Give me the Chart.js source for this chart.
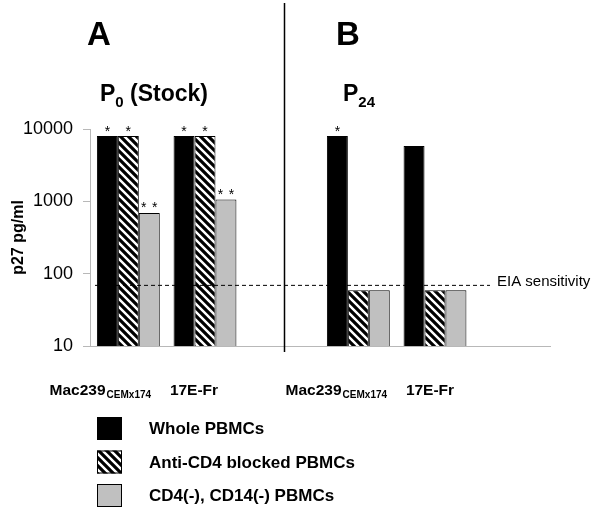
<!DOCTYPE html>
<html><head><meta charset="utf-8">
<script src="https://cdn.jsdelivr.net/npm/chart.js@4.4.1/dist/chart.umd.min.js"></script>
<style>html,body{margin:0;padding:0;background:#fff;}#wrap{width:600px;height:517px;}</style>
</head><body><div id="wrap"><canvas id="c" width="600" height="517"></canvas></div>
<script>
const categories = ['Mac239', '17E-Fr', '', 'Mac239', '17E-Fr', ''];
const categorySubscripts = ['CEMx174', '', '', 'CEMx174', '', ''];
const seriesLabels = ['Whole PBMCs', 'Anti-CD4 blocked PBMCs', 'CD4(-), CD14(-) PBMCs'];
const wholePBMCs = [8000, 8000, null, 8000, 5800, null];
const antiCD4Blocked = [8000, 8000, null, 59, 59, null];
const cd4cd14Neg = [690, 1060, null, 59, 59, null];
const starsWhole = [1, 1, 0, 1, 0, 0];
const starsAnti = [1, 1, 0, 0, 0, 0];
const starsNeg = [2, 2, 0, 0, 0, 0];
const yTicks = [10, 100, 1000, 10000];
const eiaSensitivity = 70;
const panelTitles = [{letter: 'A', main: 'P', sub: '0', rest: ' (Stock)'}, {letter: 'B', main: 'P', sub: '24', rest: ''}];

const FONT = "'Liberation Sans', Arial, sans-serif";

// hatch pattern
function makeHatch() {
  const t = document.createElement('canvas');
  t.width = 8; t.height = 8;
  const g = t.getContext('2d');
  g.fillStyle = '#fff'; g.fillRect(0, 0, 8, 8);
  g.strokeStyle = '#000'; g.lineWidth = 3.2; g.lineCap = 'square';
  g.beginPath();
  for (let k = -1; k <= 1; k++) { g.moveTo(k * 8 - 2, -2); g.lineTo(k * 8 + 10, 10); }
  g.stroke();
  return document.getElementById('c').getContext('2d').createPattern(t, 'repeat');
}
const hatch = makeHatch();
const fills = ['#000000', hatch, '#c0c0c0'];
const starSets = [starsWhole, starsAnti, starsNeg];

const extras = {
  id: 'extras',
  afterDatasetsDraw(chart) {
    const ctx = chart.ctx;
    const xs = chart.scales.x, ys = chart.scales.y;
    const area = chart.chartArea;
    ctx.save();
    // stars
    ctx.fillStyle = '#000';
    ctx.font = '14px ' + FONT;
    ctx.textAlign = 'center';
    ctx.textBaseline = 'alphabetic';
    chart.data.datasets.forEach((ds, di) => {
      const meta = chart.getDatasetMeta(di);
      starSets[di].forEach((n, i) => {
        const el = meta.data[i];
        if (!n || !el) return;
        const y = el.y - 0.5;
        if (n === 1) ctx.fillText('*', el.x, y);
        else { ctx.fillText('*', el.x - 5.5, y); ctx.fillText('*', el.x + 5.5, y); }
      });
    });
    // EIA dashed line
    const yE = ys.getPixelForValue(eiaSensitivity);
    ctx.strokeStyle = '#000'; ctx.lineWidth = 1;
    ctx.setLineDash([4, 3]);
    ctx.beginPath(); ctx.moveTo(area.left + 5, yE + 0.5); ctx.lineTo(area.left + 400, yE + 0.5); ctx.stroke();
    ctx.setLineDash([]);
    ctx.textAlign = 'left';
    ctx.font = '15px ' + FONT;
    ctx.fillText('EIA sensitivity', area.left + 407, yE + 1);
    // separator
    const xSep = Math.round(xs.getPixelForValue(2)) + 2.5;
    ctx.lineWidth = 1.5;
    ctx.beginPath(); ctx.moveTo(xSep, 3); ctx.lineTo(xSep, area.bottom + 6); ctx.stroke();
    // x labels
    const shift = [-28, -11, 0, -22, -5, 0];
    categories.forEach((lab, i) => {
      if (!lab) return;
      const cx = xs.getPixelForValue(i) + shift[i];
      ctx.font = 'bold 15.5px ' + FONT;
      const w1 = ctx.measureText(lab).width;
      ctx.font = 'bold 10px ' + FONT;
      const sub = categorySubscripts[i];
      const w2 = sub ? ctx.measureText(sub).width + 1 : 0;
      const x0 = cx - (w1 + w2) / 2;
      ctx.font = 'bold 15.5px ' + FONT;
      ctx.textAlign = 'left';
      ctx.fillText(lab, x0, 395);
      if (sub) { ctx.font = 'bold 10px ' + FONT; ctx.fillText(sub, x0 + w1 + 1, 398); }
    });
    // panel titles
    const letterX = [87, 336];
    const pX = [100, 343];
    panelTitles.forEach((p, k) => {
      ctx.textAlign = 'left';
      ctx.font = 'bold 33px ' + FONT;
      ctx.fillText(p.letter, letterX[k], 45);
      ctx.font = 'bold 23px ' + FONT;
      ctx.fillText(p.main, pX[k], 101);
      let x = pX[k] + ctx.measureText(p.main).width;
      ctx.font = 'bold 15px ' + FONT;
      ctx.fillText(p.sub, x, 107);
      x += ctx.measureText(p.sub).width;
      ctx.font = 'bold 23px ' + FONT;
      ctx.fillText(p.rest, x, 101);
    });
    // legend
    const rowsY = [434, 467.5, 501];
    chart.data.datasets.forEach((ds, di) => {
      const by = rowsY[di];
      ctx.fillStyle = ds.backgroundColor;
      ctx.fillRect(97, by - 17, 25, 23);
      ctx.strokeStyle = '#000'; ctx.lineWidth = 1;
      ctx.strokeRect(97.5, by - 16.5, 24, 22);
      ctx.fillStyle = '#000';
      ctx.font = 'bold 17px ' + FONT;
      ctx.textAlign = 'left';
      ctx.fillText(ds.label, 149, by);
    });
    ctx.restore();
  }
};

new Chart(document.getElementById('c'), {
  type: 'bar',
  data: {
    labels: categories,
    datasets: [
      {label: seriesLabels[0], data: wholePBMCs, backgroundColor: fills[0]},
      {label: seriesLabels[1], data: antiCD4Blocked, backgroundColor: fills[1]},
      {label: seriesLabels[2], data: cd4cd14Neg, backgroundColor: fills[2]}
    ]
  },
  options: {
    responsive: false,
    animation: false,
    devicePixelRatio: 1,
    layout: {padding: {top: 129, bottom: 171, left: 0, right: 50}},
    datasets: {bar: {borderColor: '#000', borderWidth: 1, categoryPercentage: 0.82, barPercentage: 1}},
    plugins: {legend: {display: false}, tooltip: {enabled: false}, title: {display: false}},
    scales: {
      x: {
        ticks: {display: false},
        grid: {display: false},
        border: {display: true, color: '#b8b8b8', width: 1},
        afterFit(s) { s.height = 0; }
      },
      y: {
        type: 'logarithmic',
        min: 10, max: 10000,
        afterBuildTicks(s) { s.ticks = yTicks.map(v => ({value: v})); },
        afterFit(s) { s.width = 90; },
        ticks: {
          color: '#000', padding: 10,
          font: {family: FONT, size: 18},
          callback: v => String(v)
        },
        grid: {display: true, drawOnChartArea: false, drawTicks: true, tickLength: 7, color: '#b8b8b8'},
        border: {display: true, color: '#b8b8b8', width: 1},
        title: {display: true, text: 'p27 pg/ml', color: '#000', font: {family: FONT, size: 16, weight: 'bold'}, padding: {top: 9, bottom: 0}}
      }
    }
  },
  plugins: [extras]
});
</script></body></html>
